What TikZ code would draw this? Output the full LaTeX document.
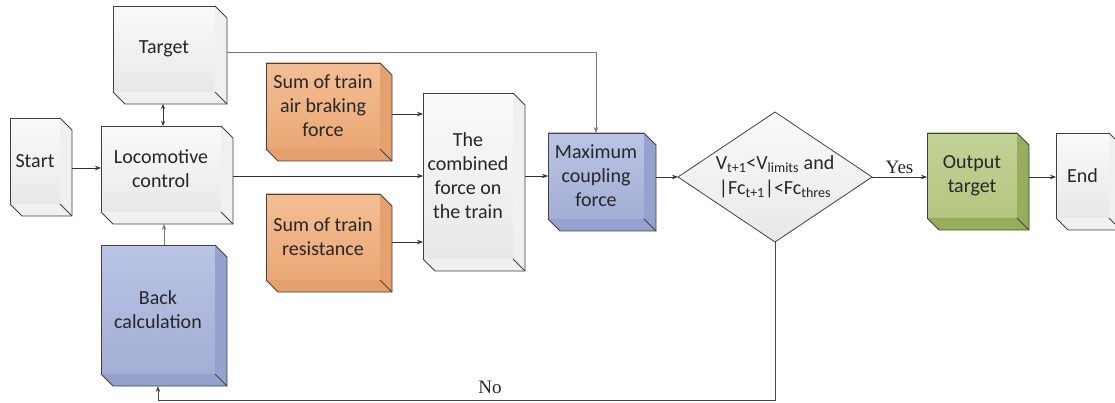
\documentclass[tikz,border=0pt]{standalone}
\usepackage{fontspec}
\setmainfont{Carlito}
\newfontfamily\timesf{Liberation Serif}
\usetikzlibrary{calc,shapes.geometric,arrows.meta}
\definecolor{edgec}{RGB}{64,64,64}
\definecolor{wtop}{RGB}{250,250,250}
\definecolor{wbot}{RGB}{232,232,232}
\definecolor{wside}{RGB}{240,240,240}
\definecolor{otop}{RGB}{244,190,148}
\definecolor{obot}{RGB}{234,168,118}
\definecolor{oside}{RGB}{228,160,110}
\definecolor{btop}{RGB}{186,196,228}
\definecolor{bbot}{RGB}{164,174,214}
\definecolor{bside}{RGB}{150,162,206}
\definecolor{gtop}{RGB}{196,210,152}
\definecolor{gbot}{RGB}{180,198,128}
\definecolor{gside}{RGB}{152,174,92}
\definecolor{linec}{RGB}{50,50,50}
\definecolor{linegray}{RGB}{120,120,120}
\newcommand{\cubedepth}[2]{%
  \fill[#2] (#1.north east) -- ++(12,12) -- ($(#1.south east)+(12,12)$) -- ($(#1.south west)+(12,12)$) -- (#1.south west) -- (#1.south east) -- cycle;
  \draw[edgec, line width=0.8pt, line join=round] (#1.north east) -- ++(12,12) -- ($(#1.south east)+(12,12)$) -- ($(#1.south west)+(12,12)$) -- (#1.south west);
  \draw[edgec, line width=0.8pt] (#1.south east) -- ++(12,12);
}
\tikzset{
  x=1pt, y=-1pt,
  cube/.style 2 args={rectangle, draw=edgec, line width=0.8pt, outer sep=0pt, inner sep=0pt,
    align=center, minimum width=#1, minimum height=#2,
    font=\fontsize{20}{24}\selectfont, text=black!85},
  white/.style={top color=wtop, bottom color=wbot},
  orange/.style={top color=otop, bottom color=obot},
  blue/.style={top color=btop, bottom color=bbot},
  green/.style={top color=gtop, bottom color=gbot},
  arr/.style={draw=linec, line width=0.8pt, -{Stealth[length=6pt,width=4.5pt]}},
  garr/.style={draw=linegray, line width=0.9pt, -{Stealth[length=6pt,width=4.5pt]}},
  dia/.style={diamond, draw=edgec, line width=0.8pt, top color=wtop, bottom color=wbot,
    minimum width=194, minimum height=130, inner sep=0pt, outer sep=0pt, shape aspect=1.49},
  lbl/.style={font=\timesf\fontsize{19}{22}\selectfont, text=black!85}
}
\begin{document}
\begin{tikzpicture}
\clip (0,0) rectangle (1115,403);
\useasboundingbox (0,0) rectangle (1115,403);

\node[cube={102}{86}, white] (target) at (164,49) {Target};
\node[cube={50}{86}, white] (start) at (35,161) {Start};
\node[cube={120}{86}, white] (loco) at (161,169) {Locomotive\\control};
\node[cube={114}{129}, blue] (back) at (158,309.5) {Back\\calculation};
\node[cube={114}{86}, orange] (air) at (323,106) {Sum of train\\air braking\\force};
\node[cube={114}{86}, orange] (res) at (323,237) {Sum of train\\resistance};
\node[cube={90}{166}, white] (comb) at (468,176) {The\\combined\\force on\\the train};
\node[cube={96}{86}, blue] (max) at (596,176) {Maximum\\coupling\\force};
\node[dia] (dec) at (775,177) {};
\node[font=\fontsize{20}{25}\selectfont, text=black!85, align=center] (dectext) at (dec.center)
  {V\textsubscript{t+1}<V\textsubscript{limits} and\\|Fc\textsubscript{t+1}|<Fc\textsubscript{thres}};
\node[cube={90}{85}, green] (out) at (972,175.5) {Output\\target};
\node[cube={53}{85}, white] (end) at (1082.5,175.5) {End};

\cubedepth{target}{wside}
\cubedepth{start}{wside}
\cubedepth{loco}{wside}
\cubedepth{back}{bside}
\cubedepth{air}{oside}
\cubedepth{res}{oside}
\cubedepth{comb}{wside}
\cubedepth{max}{bside}
\cubedepth{out}{gside}
\cubedepth{end}{wside}

% connectors
\draw[arr] ($(start.east)+(12,7)$) coordinate (s1) -- (s1 -| loco.west);
\draw[arr, {Stealth[length=5pt,width=4pt]}-{Stealth[length=5pt,width=4pt]}] ($(target.south)+(-1,12)$) -- ($(loco.north)+(2,0)$);
\draw[garr] ($(back.north)+(6,0)$) -- ($(loco.south)+(3,12)$);
\draw[garr] ($(target.east)+(12,3)$) -| (max.north);
\draw[arr] ($(loco.east)+(12,0)$) coordinate (l1) (l1 |- comb.west) -- (comb.west);
\draw[arr] ($(air.east)+(12,8)$) coordinate (a1) -- (a1 -| comb.west);
\draw[arr] ($(res.east)+(12,5)$) coordinate (r1) -- (r1 -| comb.west);
\draw[arr] ($(comb.east)+(12,0)$) -- (max.west);
\draw[arr] ($(max.east)+(12,1)$) -- (dec.west);
\draw[garr, draw=linec] (dec.east) -- node[lbl, above=0pt] {Yes} (out.west |- dec.east);
\draw[arr] ($(out.east)+(12,1.5)$) coordinate (o1) -- (o1 -| end.west);
\draw[garr, draw=linec!90] (dec.south) -- ++(0,158) coordinate (c1) -| ($(back.south)+(0,12)$);
\node[lbl] (no) at (490,387) {No};
\end{tikzpicture}
\end{document}
